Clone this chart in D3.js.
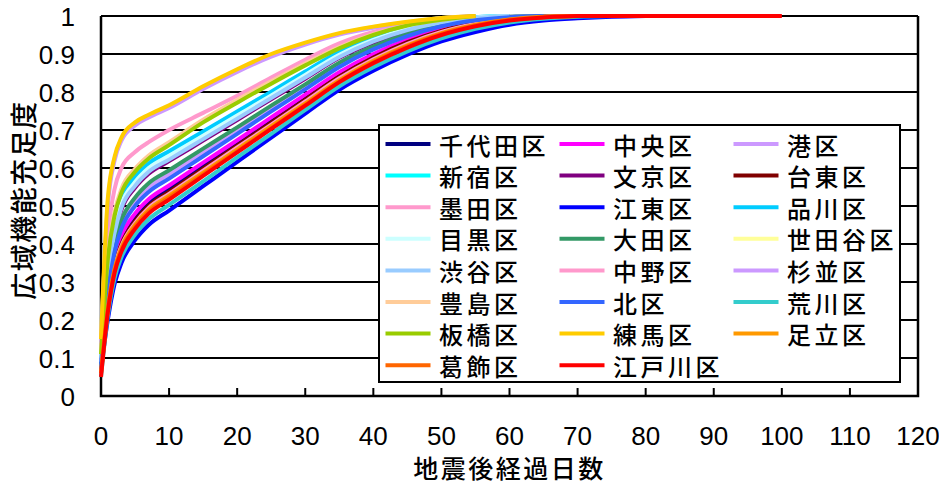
<!DOCTYPE html>
<html>
<head>
<meta charset="utf-8">
<script src="https://cdn.jsdelivr.net/npm/d3@7"></script>
<style>
  html, body { margin: 0; padding: 0; background: #fff; }
  svg { display: block; }
  .num { font-family: "Liberation Sans", Arial, sans-serif; fill: #000; }
  .jp { font-family: "Noto Sans CJK JP", sans-serif; fill: #000; font-weight: 500; }
</style>
</head>
<body>
<svg id="chart" width="939" height="484"></svg>
<script>
// Days after the earthquake at which each ward's ratio is recorded
const days = [0, 1, 2, 3, 5, 7, 10, 15, 20, 25, 30, 35, 40, 45, 50, 55, 60, 65, 70, 75, 80, 100];

// Wards in legend order
const wards = ["千代田区", "中央区", "港区", "新宿区", "文京区", "台東区", "墨田区", "江東区",
  "品川区", "目黒区", "大田区", "世田谷区", "渋谷区", "中野区", "杉並区", "豊島区",
  "北区", "荒川区", "板橋区", "練馬区", "足立区", "葛飾区", "江戸川区"];

const colors = ["#000080", "#FF00FF", "#CC99FF", "#00FFFF", "#800080", "#800000", "#FF99CC", "#0000FF",
  "#00CCFF", "#CCFFFF", "#339966", "#FFFF99", "#99CCFF", "#FF99CC", "#CC99FF", "#FFCC99",
  "#3366FF", "#33CCCC", "#99CC00", "#FFCC00", "#FF9900", "#FF6600", "#FF0000"];

// Wide-area function sufficiency per ward (one value per entry of `days`, until recovery is complete)
const chiyoda  = [0.07, 0.245, 0.35, 0.41, 0.47, 0.508, 0.544, 0.605, 0.665, 0.725, 0.786, 0.846, 0.895, 0.934, 0.963, 0.982, 0.993, 0.999, 1];
const chuo     = [0.07, 0.255, 0.36, 0.42, 0.48, 0.518, 0.554, 0.614, 0.673, 0.733, 0.793, 0.852, 0.9, 0.938, 0.966, 0.984, 0.994, 1];
const minato   = [0.08, 0.28, 0.39, 0.45, 0.51, 0.548, 0.583, 0.64, 0.698, 0.756, 0.813, 0.871, 0.916, 0.95, 0.975, 0.99, 0.998, 1];
const shinjuku = [0.1, 0.33, 0.447, 0.512, 0.57, 0.606, 0.638, 0.691, 0.744, 0.796, 0.849, 0.902, 0.94, 0.968, 0.986, 0.996, 1];
const bunkyo   = [0.09, 0.31, 0.425, 0.49, 0.548, 0.585, 0.618, 0.672, 0.726, 0.781, 0.835, 0.89, 0.93, 0.961, 0.982, 0.994, 1];
const taito    = [0.07, 0.24, 0.345, 0.4, 0.46, 0.5, 0.537, 0.598, 0.659, 0.719, 0.78, 0.841, 0.891, 0.931, 0.961, 0.981, 0.993, 0.999, 1];
const sumida   = [0.07, 0.235, 0.34, 0.395, 0.455, 0.495, 0.532, 0.593, 0.654, 0.714, 0.775, 0.836, 0.886, 0.927, 0.958, 0.979, 0.992, 0.998, 1];
const koto     = [0.07, 0.2, 0.295, 0.35, 0.41, 0.45, 0.488, 0.552, 0.616, 0.68, 0.743, 0.806, 0.856, 0.898, 0.933, 0.958, 0.977, 0.988, 0.994, 0.998, 1];
const shinagawa= [0.1, 0.34, 0.455, 0.518, 0.577, 0.612, 0.644, 0.696, 0.749, 0.801, 0.854, 0.906, 0.943, 0.97, 0.987, 0.997, 1];
const meguro   = [0.1, 0.325, 0.44, 0.505, 0.563, 0.6, 0.632, 0.685, 0.738, 0.791, 0.845, 0.898, 0.937, 0.966, 0.985, 0.996, 1];
const ota      = [0.08, 0.29, 0.4, 0.462, 0.522, 0.56, 0.594, 0.651, 0.707, 0.764, 0.82, 0.877, 0.92, 0.953, 0.977, 0.991, 0.998, 1];
const setagaya = [0.14, 0.51, 0.625, 0.676, 0.716, 0.737, 0.762, 0.812, 0.857, 0.897, 0.928, 0.953, 0.971, 0.984, 0.995, 1];
const shibuya  = [0.09, 0.315, 0.43, 0.495, 0.553, 0.59, 0.622, 0.676, 0.73, 0.784, 0.838, 0.892, 0.933, 0.963, 0.983, 0.995, 1];
const nakano   = [0.12, 0.42, 0.545, 0.6, 0.642, 0.668, 0.7, 0.745, 0.79, 0.838, 0.885, 0.928, 0.958, 0.978, 0.992, 1];
const suginami = [0.14, 0.5, 0.62, 0.672, 0.712, 0.733, 0.758, 0.808, 0.853, 0.893, 0.925, 0.951, 0.969, 0.983, 0.994, 1];
const toshima  = [0.11, 0.37, 0.485, 0.545, 0.598, 0.633, 0.668, 0.727, 0.779, 0.828, 0.875, 0.918, 0.952, 0.976, 0.99, 1];
const kita     = [0.08, 0.27, 0.38, 0.44, 0.5, 0.537, 0.572, 0.631, 0.69, 0.749, 0.807, 0.866, 0.912, 0.947, 0.973, 0.989, 0.997, 1];
const arakawa  = [0.05, 0.21, 0.31, 0.365, 0.425, 0.465, 0.503, 0.565, 0.628, 0.69, 0.753, 0.815, 0.865, 0.907, 0.941, 0.966, 0.983, 0.993, 0.998, 1];
const itabashi = [0.11, 0.36, 0.475, 0.535, 0.59, 0.625, 0.66, 0.72, 0.772, 0.822, 0.87, 0.915, 0.95, 0.975, 0.99, 1];
const nerima   = [0.15, 0.52, 0.63, 0.68, 0.72, 0.74, 0.765, 0.815, 0.86, 0.9, 0.93, 0.955, 0.972, 0.985, 0.995, 1];
const adachi   = [0.06, 0.23, 0.335, 0.39, 0.45, 0.49, 0.527, 0.588, 0.649, 0.71, 0.77, 0.831, 0.882, 0.923, 0.955, 0.977, 0.991, 0.998, 1];
const katsushika = [0.06, 0.225, 0.33, 0.385, 0.445, 0.485, 0.522, 0.583, 0.644, 0.705, 0.766, 0.827, 0.878, 0.92, 0.953, 0.975, 0.99, 0.997, 1];
const edogawa  = [0.05, 0.22, 0.325, 0.38, 0.44, 0.48, 0.517, 0.579, 0.641, 0.703, 0.764, 0.826, 0.876, 0.917, 0.95, 0.973, 0.988, 0.996, 1, 1, 1, 1];

const seriesValues = [chiyoda, chuo, minato, shinjuku, bunkyo, taito, sumida, koto,
  shinagawa, meguro, ota, setagaya, shibuya, nakano, suginami, toshima,
  kita, arakawa, itabashi, nerima, adachi, katsushika, edogawa];

const xTicks = [0, 10, 20, 30, 40, 50, 60, 70, 80, 90, 100, 110, 120];
const yTicks = [0, 0.1, 0.2, 0.3, 0.4, 0.5, 0.6, 0.7, 0.8, 0.9, 1];
const xTitle = "地震後経過日数";
const yTitle = "広域機能充足度";

const svg = d3.select("#chart");
const plot = { left: 101, right: 918, top: 16, bottom: 396 };

const x = d3.scaleLinear().domain([0, 120]).range([plot.left, plot.right]);
const y = d3.scaleLinear().domain([0, 1]).range([plot.bottom, plot.top]);

// Horizontal gridlines
svg.append("g").selectAll("line").data(yTicks.filter(v => v > 0)).join("line")
  .attr("x1", plot.left).attr("x2", plot.right)
  .attr("y1", d => y(d)).attr("y2", d => y(d))
  .attr("stroke", "#000").attr("stroke-width", 2);

// Plot frame: left axis, bottom axis, right edge
svg.append("path")
  .attr("d", `M${plot.left},${plot.top}V${plot.bottom}H${plot.right}V${plot.top}`)
  .attr("fill", "none").attr("stroke", "#000").attr("stroke-width", 2.5);

// X ticks point inward
svg.append("g").selectAll("line").data(xTicks).join("line")
  .attr("x1", d => x(d)).attr("x2", d => x(d))
  .attr("y1", plot.bottom).attr("y2", plot.bottom - 8)
  .attr("stroke", "#000").attr("stroke-width", 2);

// Tick labels
svg.append("g").selectAll("text").data(xTicks).join("text")
  .attr("class", "num")
  .attr("x", d => x(d)).attr("y", 445)
  .attr("text-anchor", "middle")
  .style("font-size", "26px")
  .text(d => d);

svg.append("g").selectAll("text").data(yTicks).join("text")
  .attr("class", "num")
  .attr("x", 75).attr("y", d => y(d) + 10)
  .attr("text-anchor", "end")
  .style("font-size", "26px")
  .text(d => d3.format("~g")(d));

// Axis titles
svg.append("text").attr("class", "jp")
  .attr("x", (plot.left + plot.right) / 2).attr("y", 467)
  .attr("text-anchor", "middle").attr("dominant-baseline", "central")
  .style("font-size", "25px").style("letter-spacing", "2.5px")
  .text(xTitle);

svg.append("text").attr("class", "jp")
  .attr("transform", "translate(22,200) rotate(-90)")
  .attr("text-anchor", "middle").attr("dominant-baseline", "central")
  .style("font-size", "27px").style("letter-spacing", "1.5px")
  .text(yTitle);

// Ward curves
const line = d3.line()
  .x((d, i) => x(days[i]))
  .y(d => y(d))
  .curve(d3.curveMonotoneX);

svg.append("g").selectAll("path").data(seriesValues).join("path")
  .attr("d", d => line(d))
  .attr("fill", "none")
  .attr("stroke", (d, i) => colors[i])
  .attr("stroke-width", 4)
  .attr("stroke-linejoin", "round");

// Legend: three columns, filled row by row
const legend = svg.append("g");
legend.append("rect")
  .attr("x", 379).attr("y", 125).attr("width", 521).attr("height", 257)
  .attr("fill", "#fff").attr("stroke", "#000").attr("stroke-width", 2);

const items = legend.selectAll("g.item").data(wards).join("g")
  .attr("class", "item")
  .attr("transform", (d, i) => `translate(${385.5 + 174 * (i % 3)},${144 + 31.6 * Math.floor(i / 3)})`);

items.append("line")
  .attr("x1", 0).attr("x2", 45).attr("y1", 0).attr("y2", 0)
  .attr("stroke", (d, i) => colors[i]).attr("stroke-width", 4);

items.append("text").attr("class", "jp")
  .attr("x", 53.5).attr("y", 0)
  .attr("dominant-baseline", "central")
  .style("font-size", "24px").style("letter-spacing", "3.5px")
  .text(d => d);
</script>
</body>
</html>
